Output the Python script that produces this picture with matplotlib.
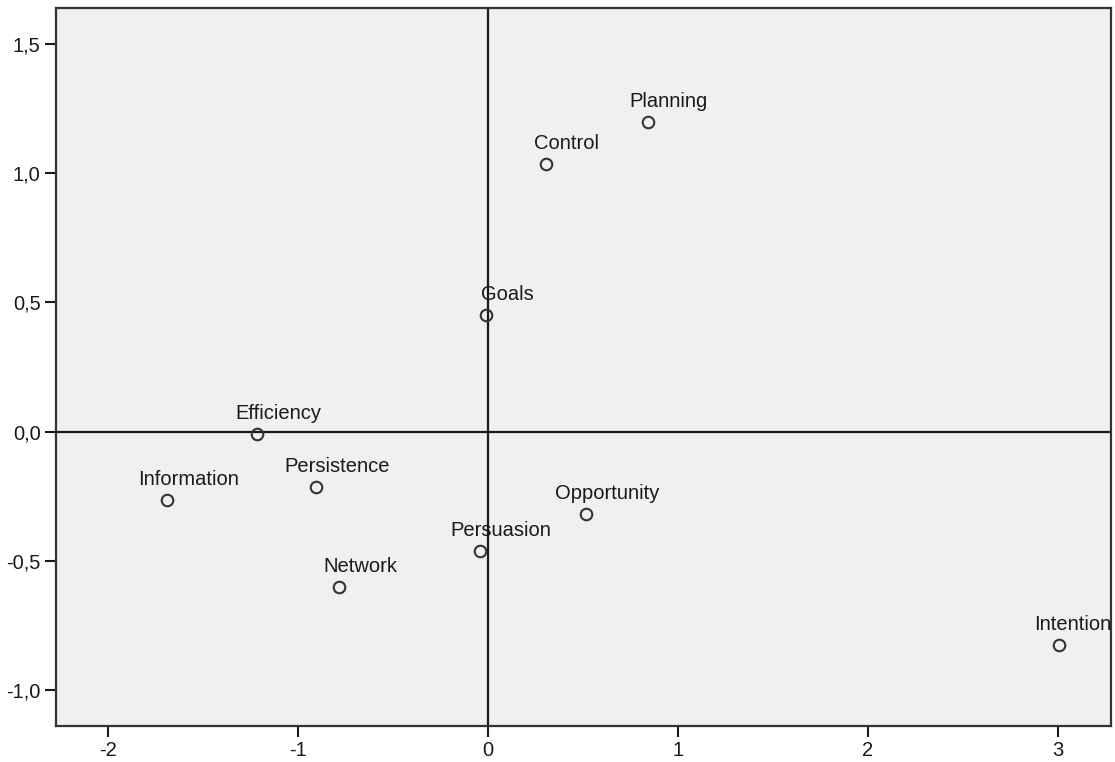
import matplotlib.pyplot as plt

plt.rcParams['font.family'] = ['Liberation Sans', 'DejaVu Sans']
plt.rcParams['axes.unicode_minus'] = False

# variable names and their coordinates on the two dimensions
names = ['Planning', 'Control', 'Goals', 'Efficiency', 'Information',
         'Persistence', 'Network', 'Persuasion', 'Opportunity', 'Intention']
dim1 = [0.842, 0.304, -0.011, -1.214, -1.688, -0.905, -0.784, -0.042, 0.516, 3.005]
dim2 = [1.197, 1.034, 0.451, -0.011, -0.265, -0.216, -0.600, -0.462, -0.320, -0.826]

x_ticks = [-2, -1, 0, 1, 2, 3]
y_ticks = [-1.0, -0.5, 0.0, 0.5, 1.0, 1.5]
y_tick_labels = ['-1,0', '-0,5', '0,0', '0,5', '1,0', '1,5']

fig = plt.figure(figsize=(11.15, 7.62), dpi=100)
ax = fig.add_axes([0.0502, 0.0472, 0.9462, 0.9423])
ax.set_facecolor('#f0f0f0')

# reference lines through the origin
ax.axhline(0, color='#1a1a1a', linewidth=1.6, zorder=1)
ax.axvline(0, color='#1a1a1a', linewidth=1.6, zorder=1)

ax.plot(dim1, dim2, linestyle='none', marker='o', markersize=8.3,
        markerfacecolor='none', markeredgecolor='#333333', markeredgewidth=1.5, zorder=3)

for n, x, y in zip(names, dim1, dim2):
    dx = 21
    if n == 'Intention':  # sits against the right edge
        dx = 14
    ax.annotate(n, (x, y), xytext=(dx, 15), textcoords='offset pixels',
                ha='center', va='baseline', fontsize=14.5, color='#1a1a1a',
                annotation_clip=False, zorder=4)

ax.set_xlim(-2.274, 3.279)
ax.set_ylim(-1.139, 1.638)
ax.set_xticks(x_ticks)
ax.set_yticks(y_ticks)
ax.set_yticklabels(y_tick_labels)
ax.tick_params(direction='out', length=8, width=1.5, labelsize=14.5,
               colors='#1a1a1a', pad=3)
for s in ax.spines.values():
    s.set_linewidth(1.6)
    s.set_color('#333333')

fig.savefig('out.png', dpi=100)
